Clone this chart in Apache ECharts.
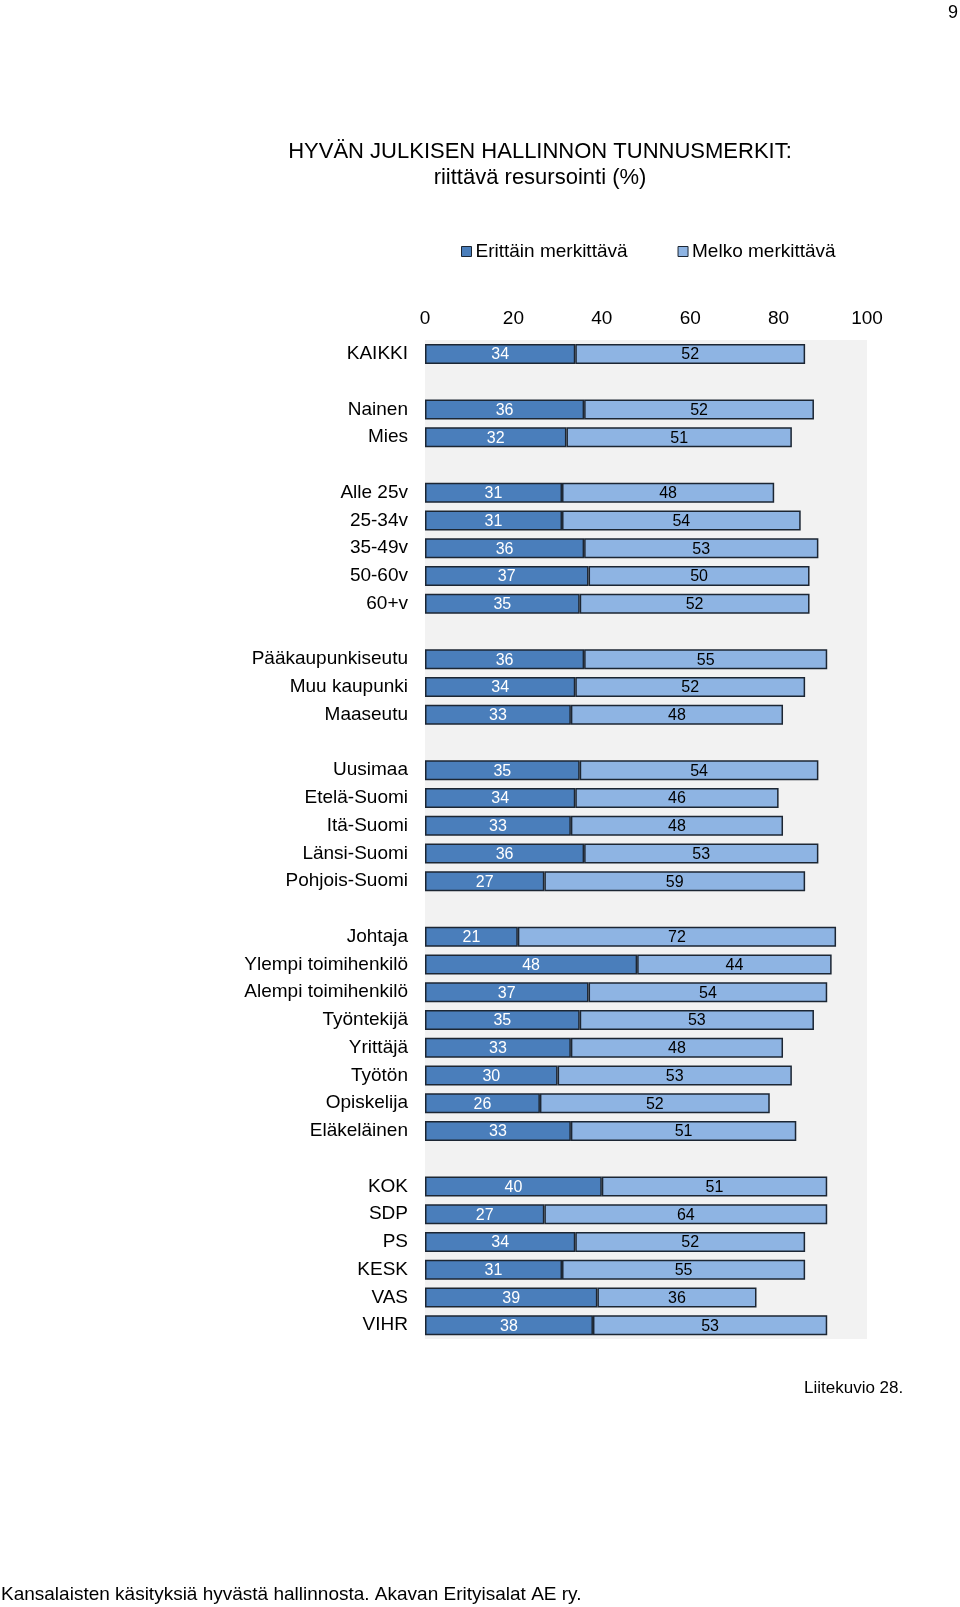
<!DOCTYPE html>
<html>
<head>
<meta charset="utf-8">
<script src="https://cdn.jsdelivr.net/npm/echarts@6/dist/echarts.min.js"></script>
<style>
html,body{margin:0;padding:0;background:#fff;}
#chart{width:960px;height:1607px;}
</style>
</head>
<body>
<div id="chart"></div>
<script>
const categories = [
  'KAIKKI', '',
  'Nainen', 'Mies', '',
  'Alle 25v', '25-34v', '35-49v', '50-60v', '60+v', '',
  'Pääkaupunkiseutu', 'Muu kaupunki', 'Maaseutu', '',
  'Uusimaa', 'Etelä-Suomi', 'Itä-Suomi', 'Länsi-Suomi', 'Pohjois-Suomi', '',
  'Johtaja', 'Ylempi toimihenkilö', 'Alempi toimihenkilö', 'Työntekijä', 'Yrittäjä', 'Työtön', 'Opiskelija', 'Eläkeläinen', '',
  'KOK', 'SDP', 'PS', 'KESK', 'VAS', 'VIHR'
];
const erittain = [
  34, null,
  36, 32, null,
  31, 31, 36, 37, 35, null,
  36, 34, 33, null,
  35, 34, 33, 36, 27, null,
  21, 48, 37, 35, 33, 30, 26, 33, null,
  40, 27, 34, 31, 39, 38
];
const melko = [
  52, null,
  52, 51, null,
  48, 54, 53, 50, 52, null,
  55, 52, 48, null,
  54, 46, 48, 53, 59, null,
  72, 44, 54, 53, 48, 53, 52, 51, null,
  51, 64, 52, 55, 36, 53
];
const seriesNames = ['Erittäin merkittävä', 'Melko merkittävä'];
const xTicks = [0, 20, 40, 60, 80, 100];

const FONT = '"Liberation Sans", Arial, Helvetica, sans-serif';
const chart = echarts.init(document.getElementById('chart'), null, {renderer: 'canvas'});

chart.setOption({
  animation: false,
  backgroundColor: '#ffffff',
  textStyle: {fontFamily: FONT},
  graphic: [
    {type: 'text', left: 948, top: 4, style: {text: '9', font: '18px ' + FONT, fill: '#000'}},
    {type: 'text', x: 540, y: 152, style: {text: 'HYVÄN JULKISEN HALLINNON TUNNUSMERKIT:', font: '22px ' + FONT, fill: '#000', textAlign: 'center', textVerticalAlign: 'middle'}},
    {type: 'text', x: 540, y: 178, style: {text: 'riittävä resursointi (%)', font: '22px ' + FONT, fill: '#000', textAlign: 'center', textVerticalAlign: 'middle'}},
    {type: 'text', x: 804, y: 1388, style: {text: 'Liitekuvio 28.', font: '17px ' + FONT, fill: '#000', textAlign: 'left', textVerticalAlign: 'middle'}},
    {type: 'text', x: 1, y: 1595, style: {text: 'Kansalaisten käsityksiä hyvästä hallinnosta. Akavan Erityisalat AE ry.', font: '19px ' + FONT, fill: '#000', textAlign: 'left', textVerticalAlign: 'middle'}}
  ],
  legend: {
    data: seriesNames,
    left: 456,
    top: 237,
    icon: 'rect',
    itemWidth: 10,
    itemHeight: 10,
    itemGap: 50,
    textStyle: {fontSize: 19, color: '#000', fontFamily: FONT, padding: [0, 0, 0, -1]},
    itemStyle: {borderColor: '#1c2633', borderWidth: 1}
  },
  grid: {
    left: 425,
    right: 93,
    top: 340,
    height: 999,
    show: true,
    backgroundColor: '#f2f2f2',
    borderWidth: 0,
    containLabel: false
  },
  xAxis: {
    type: 'value',
    position: 'top',
    min: xTicks[0],
    max: xTicks[xTicks.length - 1],
    interval: 20,
    axisLine: {show: false},
    axisTick: {show: false},
    splitLine: {show: false},
    axisLabel: {fontSize: 19, color: '#000', margin: 12, fontFamily: FONT}
  },
  yAxis: {
    type: 'category',
    inverse: true,
    data: categories,
    axisLine: {show: false},
    axisTick: {show: false},
    splitLine: {show: false},
    axisLabel: {fontSize: 19, color: '#000', margin: 17, fontFamily: FONT, interval: 0}
  },
  series: [
    {
      name: seriesNames[0],
      type: 'bar',
      stack: 'total',
      data: erittain,
      barWidth: 20,
      itemStyle: {color: '#4a7ebb', borderColor: '#1c2633', borderWidth: 1.5},
      label: {show: true, position: 'inside', color: '#ffffff', fontSize: 16, fontFamily: FONT, offset: [0, 1], formatter: p => p.value}
    },
    {
      name: seriesNames[1],
      type: 'bar',
      stack: 'total',
      data: melko,
      barWidth: 20,
      itemStyle: {color: '#8eb4e3', borderColor: '#1c2633', borderWidth: 1.5},
      label: {show: true, position: 'inside', color: '#000000', fontSize: 16, fontFamily: FONT, offset: [0, 1], formatter: p => p.value}
    }
  ]
});
</script>
</body>
</html>
